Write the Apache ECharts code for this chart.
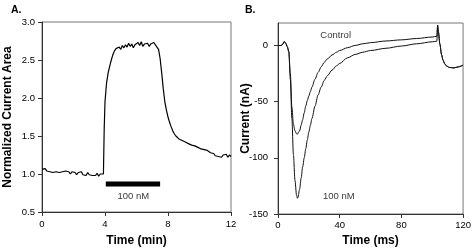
<!DOCTYPE html>
<html>
<head>
<meta charset="utf-8">
<script src="https://cdn.jsdelivr.net/npm/echarts@6/dist/echarts.min.js"></script>
<style>html,body{margin:0;padding:0;background:#fff}#c{width:474px;height:252px}</style>
</head>
<body>
<div id="c"></div>
<script>
// Panel A: normalized current area vs time (min)
const timeA = [0.0,0.1,0.2,0.3,0.4,0.5,0.6,0.7,0.8,0.9,1.0,1.1,1.2,1.3,1.4,1.5,1.6,1.7,1.8,1.9,2.0,2.1,2.2,2.3,2.4,2.5,2.6,2.7,2.8,2.9,3.0,3.1,3.2,3.3,3.4,3.5,3.6,3.7,3.8,3.9,3.95,4.0,4.1,4.2,4.3,4.4,4.5,4.6,4.7,4.8,4.9,5.0,5.1,5.2,5.3,5.4,5.5,5.6,5.7,5.8,5.9,6.0,6.1,6.2,6.3,6.4,6.5,6.6,6.7,6.8,6.9,7.0,7.1,7.2,7.3,7.4,7.5,7.6,7.7,7.8,7.9,8.0,8.1,8.2,8.3,8.4,8.5,8.6,8.7,8.8,8.9,9.0,9.1,9.2,9.3,9.4,9.5,9.6,9.7,9.8,9.9,10.0,10.1,10.2,10.3,10.4,10.5,10.6,10.7,10.8,10.9,11.0,11.1,11.2,11.3,11.4,11.5,11.6,11.7,11.8,11.9,12.0];
const areaA = [1.06,1.05,1.07,1.04,1.06,1.03,1.05,1.02,1.04,1.03,1.05,1.02,1.04,1.03,1.01,1.04,1.02,1.03,1.00,1.03,1.01,1.02,0.99,1.02,1.00,1.03,0.99,1.01,0.98,1.02,0.99,1.01,0.98,1.00,0.98,1.01,0.97,1.00,0.98,1.00,1.60,1.95,2.20,2.33,2.42,2.50,2.57,2.62,2.65,2.63,2.67,2.64,2.69,2.66,2.70,2.67,2.72,2.68,2.71,2.66,2.70,2.68,2.73,2.69,2.74,2.68,2.71,2.69,2.72,2.68,2.71,2.69,2.73,2.70,2.72,2.64,2.52,2.33,2.12,1.95,1.84,1.75,1.68,1.62,1.57,1.53,1.50,1.48,1.46,1.47,1.44,1.45,1.42,1.43,1.40,1.41,1.38,1.39,1.37,1.38,1.35,1.36,1.33,1.35,1.32,1.34,1.31,1.32,1.28,1.26,1.27,1.24,1.26,1.23,1.25,1.22,1.25,1.23,1.26,1.22,1.25,1.23];
const drugBarTimes = [4.05, 7.5];
const drugBarLevel = 0.87;
const drugLabelA = {t: 5.8, v: 0.70, text: '100 nM'};
const ticksAY = [0.5, 1.0, 1.5, 2.0, 2.5, 3.0];
const ticksAX = [0, 4, 8, 12];

// Panel B: current (nA) vs time (ms)
const timeB = [0,2,3,4,5,6,7,8,9,10,11,12,12.6,13,14,15,16,17,18,19,20,21,22,24,26,28,30,32,35,38,40,45,50,55,60,70,80,90,100,103,103.5,104,105,106,107,108,109,111,114,117,120];
const controlB = [0,0,1,3.5,2,-1,-5,-25,-55,-70,-76,-78.5,-79,-79,-76,-71,-66,-60,-54,-49,-45,-41,-37,-30,-24,-19,-15,-12,-8.5,-6,-4.5,-2,0,1.5,2.5,4,5,6.2,7.5,8.2,18,12,1,-8,-13,-16,-18,-19.5,-20,-19,-17.5];
const drugB = [0,0,1,3.5,2,-1,-6,-30,-65,-97,-120,-133,-136,-135,-128,-118,-108,-100,-92,-84,-77,-71,-65,-54,-44,-37,-31,-27,-22,-18,-16,-11,-8,-6,-4.5,-2.5,-0.5,1.5,3.3,3.8,18,12,1,-8,-13,-16,-18,-19.5,-20,-19,-17.5];
const labelControlB = {t: 37.4, v: 9, text: 'Control'};
const labelDrugB = {t: 39.4, v: -134.5, text: '100 nM'};
const ticksBY = [-150, -100, -50, 0];
const ticksBX = [0, 40, 80, 120];

const small = "'Liberation Sans',Arial,sans-serif";
const bold = "'Liberation Sans',Arial,sans-serif";
const fs = 9.5;

function zip(a, b) { return a.map((x, i) => [x, b[i]]); }

const axisCommon = {
  axisLine: {show: true, onZero: false, lineStyle: {color: '#333', width: 1}},
  axisTick: {show: true, inside: false, length: 4, lineStyle: {color: '#333'}},
  splitLine: {show: false},
  nameMoveOverlap: false,
  nameTextStyle: {fontFamily: bold, fontWeight: 'bold', fontSize: 12, color: '#000'}
};

const chart = echarts.init(document.getElementById('c'), null, {renderer: 'canvas'});
chart.setOption({
  animation: false,
  backgroundColor: '#fff',
  title: [
    {text: 'A.', left: 6, top: 0, textStyle: {fontFamily: bold, fontWeight: 'bold', fontSize: 10.5, color: '#000'}},
    {text: 'B.', left: 240, top: 0, textStyle: {fontFamily: bold, fontWeight: 'bold', fontSize: 10.5, color: '#000'}}
  ],
  grid: [
    {left: 42, right: 243, top: 22, bottom: 38, show: true, borderColor: '#777', borderWidth: 1, backgroundColor: 'transparent'},
    {left: 278, right: 5, top: 23, bottom: 36, show: true, borderColor: '#777', borderWidth: 1, backgroundColor: 'transparent'}
  ],
  xAxis: [
    Object.assign({}, axisCommon, {
      gridIndex: 0, type: 'value', min: 0, max: 12, interval: 4,
      name: 'Time (min)', nameLocation: 'middle', nameGap: 23,
      axisLabel: {margin: 7, fontFamily: small, fontSize: fs, color: '#000', customValues: ticksAX},
      axisTick: Object.assign({}, axisCommon.axisTick, {customValues: ticksAX})
    }),
    Object.assign({}, axisCommon, {
      gridIndex: 1, type: 'value', min: 0, max: 120, interval: 40,
      name: 'Time (ms)', nameLocation: 'middle', nameGap: 21,
      axisLabel: {margin: 6, fontFamily: small, fontSize: fs, color: '#000', customValues: ticksBX},
      axisTick: Object.assign({}, axisCommon.axisTick, {customValues: ticksBX})
    })
  ],
  yAxis: [
    Object.assign({}, axisCommon, {
      gridIndex: 0, type: 'value', min: 0.5, max: 3.0, interval: 0.5,
      name: 'Normalized Current Area', nameLocation: 'middle', nameGap: 28, nameRotate: 90,
      axisLabel: {margin: 7, fontFamily: small, fontSize: fs, color: '#000', customValues: ticksAY, formatter: v => v.toFixed(1)},
      axisTick: Object.assign({}, axisCommon.axisTick, {customValues: ticksAY})
    }),
    Object.assign({}, axisCommon, {
      gridIndex: 1, type: 'value', min: -150, max: 20, interval: 50,
      name: 'Current (nA)', nameLocation: 'middle', nameGap: 26, nameRotate: 90,
      axisLabel: {margin: 10, fontFamily: small, fontSize: fs, color: '#000', customValues: ticksBY},
      axisTick: Object.assign({}, axisCommon.axisTick, {customValues: ticksBY})
    })
  ],
  series: [
    {type: 'line', xAxisIndex: 0, yAxisIndex: 0, data: zip(timeA, areaA), showSymbol: false, symbol: 'none',
     lineStyle: {color: '#000', width: 1.2}},
    {type: 'line', xAxisIndex: 0, yAxisIndex: 0, data: drugBarTimes.map(t => [t, drugBarLevel]), symbol: 'none',
     lineStyle: {color: '#000', width: 5, cap: 'butt'}},
    {type: 'scatter', xAxisIndex: 0, yAxisIndex: 0, symbolSize: 0, data: [[drugLabelA.t, drugLabelA.v]],
     label: {show: true, position: 'inside', formatter: drugLabelA.text, fontFamily: small, fontSize: fs, color: '#000'}},
    {type: 'line', xAxisIndex: 1, yAxisIndex: 1, data: zip(timeB, controlB), symbol: 'none', smooth: 0.3, smoothMonotone: 'x',
     lineStyle: {color: '#111', width: 1}},
    {type: 'line', xAxisIndex: 1, yAxisIndex: 1, data: zip(timeB, drugB), symbol: 'none', smooth: 0.3, smoothMonotone: 'x',
     lineStyle: {color: '#111', width: 1}},
    {type: 'scatter', xAxisIndex: 1, yAxisIndex: 1, symbolSize: 0,
     data: [[labelControlB.t, labelControlB.v, labelControlB.text], [labelDrugB.t, labelDrugB.v, labelDrugB.text]],
     label: {show: true, position: 'inside', formatter: p => p.data[2], fontFamily: small, fontSize: fs, color: '#000'}}
  ]
});
</script>
</body>
</html>
